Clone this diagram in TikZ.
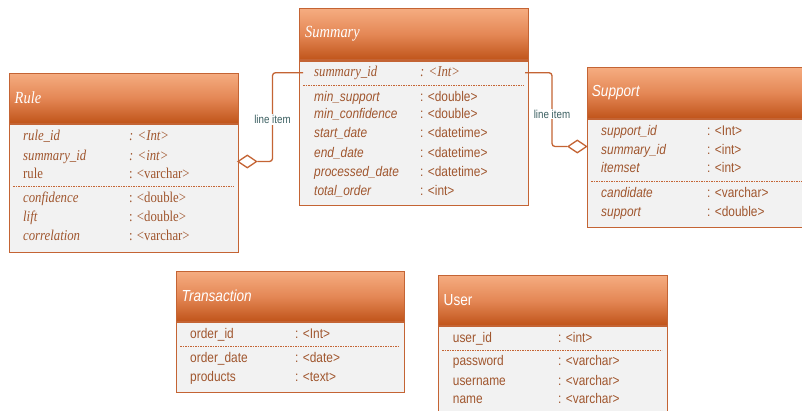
\documentclass[tikz,border=0pt]{standalone}
\usepackage{fontspec}
\usetikzlibrary{shapes.geometric}
\newfontfamily\sfn[FakeStretch=0.85]{Liberation Sans}
\newfontfamily\sen[FakeStretch=0.85]{Liberation Serif}
\newcommand\senb{\fontsize{15}{17}\selectfont\sen}
\definecolor{hdtop}{RGB}{245,172,128}
\definecolor{hdmid}{RGB}{228,135,85}
\definecolor{hdbot}{RGB}{192,84,26}
\definecolor{bord}{RGB}{196,100,52}
\definecolor{bodyc}{RGB}{242,242,242}
\definecolor{txt}{RGB}{160,86,46}
\definecolor{lbl}{RGB}{60,96,98}
\tikzset{
  hdr/.style={draw=bord, line width=1.1pt, top color=hdtop, bottom color=hdbot, middle color=hdmid, minimum width=228.5pt, minimum height=50pt, anchor=north west, inner sep=0pt},
  bodybox/.style={draw=bord, line width=1.1pt, fill=bodyc, minimum width=228.5pt, anchor=north west, inner sep=0pt},
  ttl/.style={anchor=west, inner sep=0pt, text=white, font=\fontsize{16}{18}\selectfont},
  fld/.style={anchor=base west, inner sep=0pt, text=txt, font=\fontsize{14}{16}\selectfont},
  sep/.style={draw=bord, line width=1pt, dash pattern=on 1.6pt off 0.9pt},
  conn/.style={draw=bord, line width=1.3pt, rounded corners=3pt},
  dia/.style={diamond, draw=bord, line width=1.3pt, fill=white, aspect=1.45, minimum width=19pt, minimum height=13pt, inner sep=0pt},
  lab/.style={fill=white, inner sep=1pt, text=lbl, font=\fontsize{11.5}{13}\sfn}
}
\newcommand\erow[6]{\node[fld] (#1f) at (#2,#4) {#5}; \node[fld] (#1t) at (#3,#4) {#6};}
\begin{document}
\begin{tikzpicture}[x=1pt,y=-1pt]
\useasboundingbox (0,0) rectangle (802,410);
\fill[white] (0,0) rectangle (802,410);
\clip (0,0) rectangle (802,410);

% ---------- Rule ----------
\node[hdr] (ruleH) at (9.3,72.7) {};
\node[bodybox, minimum height=128.3pt] (ruleB) at (ruleH.south west) {};
\node[ttl] (ruleT) at (14.5,97.7) {\fontsize{17}{19}\selectfont\sen\itshape Rule};
\draw[sep] (13,186) -- (234,186);
\erow{ra}{23}{129}{140.5}{\senb\itshape rule\_id}{\senb\itshape : <Int>}
\erow{rb}{23}{129}{160.2}{\senb\itshape summary\_id}{\senb\itshape : <int>}
\erow{rc}{23}{129}{178.5}{\senb rule}{\senb : <varchar>}
\erow{rd}{23}{129}{202.2}{\senb\itshape confidence}{\senb : <double>}
\erow{re}{23}{129}{221.2}{\senb\itshape lift}{\senb : <double>}
\erow{rf}{23}{129}{240.2}{\senb\itshape correlation}{\senb : <varchar>}

% ---------- Summary ----------
\node[hdr, minimum height=51pt] (sumH) at (299.3,8.3) {};
\node[bodybox, minimum height=144.7pt] (sumB) at (sumH.south west) {};
\node[ttl] (sumT) at (305,33.8) {\fontsize{17}{19}\selectfont\sen\itshape Summary};
\draw[sep] (303,85) -- (524,85);
\erow{sa}{314}{420}{76.2}{\senb\itshape summary\_id}{\senb\itshape : <Int>}
\erow{sb}{314}{420}{101.2}{\sfn\itshape min\_support}{\sfn : <double>}
\erow{sc}{314}{420}{118.8}{\sfn\itshape min\_confidence}{\sfn : <double>}
\erow{sd}{314}{420}{137.5}{\sfn\itshape start\_date}{\sfn : <datetime>}
\erow{se}{314}{420}{157.2}{\sfn\itshape end\_date}{\sfn : <datetime>}
\erow{sf}{314}{420}{176.2}{\sfn\itshape processed\_date}{\sfn : <datetime>}
\erow{sg}{314}{420}{195.5}{\sfn\itshape total\_order}{\sfn : <int>}

% ---------- Support ----------
\node[hdr, minimum height=50.7pt, minimum width=225pt] (supH) at (586.7,67.3) {};
\node[bodybox, minimum height=108pt, minimum width=225pt] (supB) at (supH.south west) {};
\node[ttl] (supT) at (591.7,92.5) {\sfn\itshape Support};
\draw[sep] (591,181.7) -- (802,181.7);
\erow{pa}{601}{707}{135.5}{\sfn\itshape support\_id}{\sfn : <Int>}
\erow{pb}{601}{707}{154.5}{\sfn\itshape summary\_id}{\sfn : <int>}
\erow{pc}{601}{707}{172.8}{\sfn\itshape itemset}{\sfn : <int>}
\erow{pd}{601}{707}{197.2}{\sfn\itshape candidate}{\sfn : <varchar>}
\erow{pe}{601}{707}{216.2}{\sfn\itshape support}{\sfn : <double>}

% ---------- Transaction ----------
\node[hdr] (trH) at (175.7,271) {};
\node[bodybox, minimum height=70pt] (trB) at (trH.south west) {};
\node[ttl] (trT) at (181.5,296) {\sfn\itshape Transaction};
\draw[sep] (180,346) -- (399,346);
\erow{ta}{190}{295}{338.5}{\sfn order\_id}{\sfn : <Int>}
\erow{tb}{190}{295}{362.2}{\sfn order\_date}{\sfn : <date>}
\erow{tc}{190}{295}{381.2}{\sfn products}{\sfn : <text>}

% ---------- User ----------
\node[hdr] (usH) at (438.3,275) {};
\node[bodybox, minimum height=95pt] (usB) at (usH.south west) {};
\node[ttl] (usT) at (443.5,300) {\sfn User};
\draw[sep] (442,350) -- (662,350);
\erow{ua}{452.7}{558}{342.8}{\sfn user\_id}{\sfn : <int>}
\erow{ub}{452.7}{558}{365.5}{\sfn password}{\sfn : <varchar>}
\erow{uc}{452.7}{558}{385.2}{\sfn username}{\sfn : <varchar>}
\erow{ud}{452.7}{558}{403.8}{\sfn name}{\sfn : <varchar>}

% ---------- connectors ----------
\node[dia] (d1) at (247.3,161.5) {};
\coordinate (k1) at (272.5,161.5);
\coordinate (k2) at (272.5,72.7);
\coordinate (e1) at (303,72.7);
\draw[conn] (d1.east) -- (k1) -- (k2) -- (e1);
\node[lab] (l1) at (272.5,119.3) {line item};

\node[dia] (d2) at (577.3,146.5) {};
\coordinate (e2) at (525,72.7);
\coordinate (k3) at (552,72.7);
\coordinate (k4) at (552,146.5);
\draw[conn] (e2) -- (k3) -- (k4) -- (d2.west);
\node[lab] (l2) at (552,114) {line item};
\end{tikzpicture}
\end{document}
